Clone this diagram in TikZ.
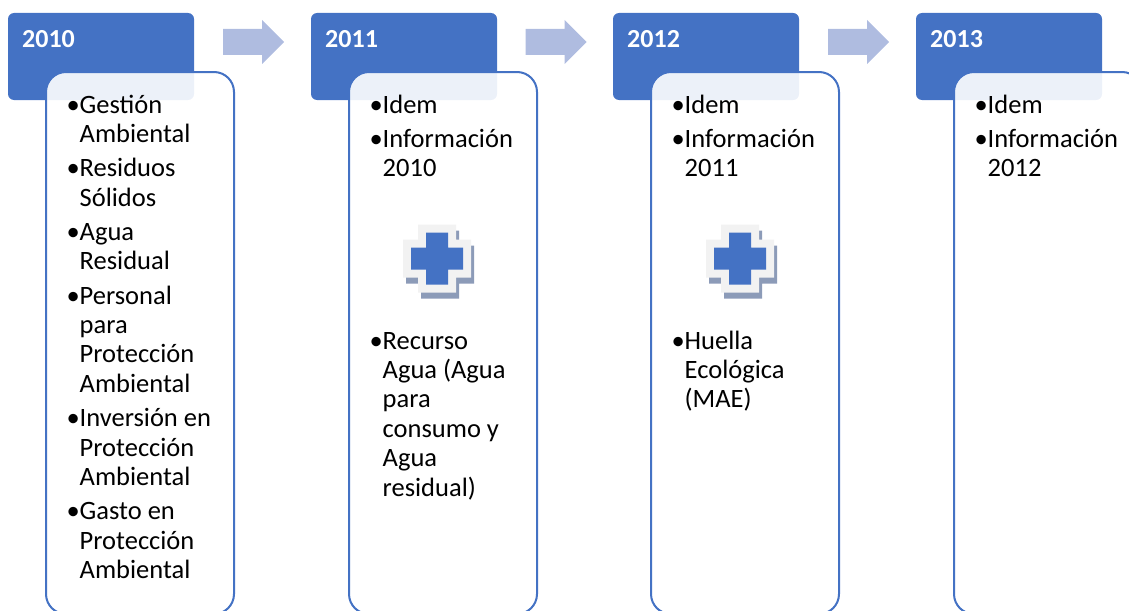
\documentclass[tikz,border=0pt]{standalone}
\usepackage{fontspec}
\setmainfont{Carlito}
\definecolor{acc}{RGB}{68,114,196}
\definecolor{arrc}{RGB}{175,188,224}
\definecolor{lightc}{RGB}{242,242,242}
\definecolor{shadc}{RGB}{140,155,184}
\newcommand{\bu}{\hfill•\hspace{2.5pt}}
\begin{document}
\begin{tikzpicture}[x=1pt,y=-1pt,
  hdr/.style={fill=acc, rounded corners=6pt, minimum width=186pt, minimum height=87pt, inner sep=0pt, outer sep=0pt},
  boxc/.style={draw=acc, line width=2pt, fill=white, fill opacity=0.9, rounded corners=20pt, minimum width=188pt, minimum height=542pt, inner sep=0pt, outer sep=0pt},
  ttl/.style={anchor=base west, inner sep=0pt, text=white, font=\fontsize{26}{30}\selectfont\bfseries},
  itm/.style={anchor=base west, inner sep=0pt, font=\fontsize{26.5}{29.4}\selectfont},
  pics/pluscross/.style={code={
    \fill[shadc] (3,6) ++(-19,-34) -- ++(38,0) -- ++(0,15) -- ++(15,0) -- ++(0,38) -- ++(-15,0) -- ++(0,15) -- ++(-38,0) -- ++(0,-15) -- ++(-15,0) -- ++(0,-38) -- ++(15,0) -- cycle;
    \fill[lightc] (-19,-34) -- ++(38,0) -- ++(0,15) -- ++(15,0) -- ++(0,38) -- ++(-15,0) -- ++(0,15) -- ++(-38,0) -- ++(0,-15) -- ++(-15,0) -- ++(0,-38) -- ++(15,0) -- cycle;
    \fill[acc] (-11,-26) -- ++(22,0) -- ++(0,15) -- ++(15,0) -- ++(0,22) -- ++(-15,0) -- ++(0,15) -- ++(-22,0) -- ++(0,-15) -- ++(-15,0) -- ++(0,-22) -- ++(15,0) -- cycle;
  }}
]
\useasboundingbox (0,0) rectangle (1129,610);
\clip (0,0) rectangle (1129,610);

% block arrows
\foreach \d in {0,302.5,605}{
  \fill[arrc] (223+\d,29) -- (262+\d,29) -- (262+\d,20) -- (284+\d,42) -- (262+\d,64) -- (262+\d,55) -- (223+\d,55) -- cycle;
}

% headers
\node[hdr] (h1) at (101,56.5) {};
\node[hdr] (h2) at (404,56.5) {};
\node[hdr] (h3) at (706,56.5) {};
\node[hdr] (h4) at (1009,56.5) {};
\node[ttl] (y1) at (22,48) {2010};
\node[ttl] (y2) at (325,48) {2011};
\node[ttl] (y3) at (627,48) {2012};
\node[ttl] (y4) at (930,48) {2013};

% boxes
\node[boxc] (b1) at (140,343) {};
\node[boxc] (b2) at (443,343) {};
\node[boxc] (b3) at (745,343) {};
\node[boxc] (b4) at (1048,343) {};

% texts
\node[itm] (l1) at (62,113) {\begin{tabular}[t]{@{}p{17.5pt}@{}l@{}}
\bu&Gestión\\ &Ambiental\\[4.9pt]
\bu&Residuos\\ &Sólidos\\[4.9pt]
\bu&Agua\\ &Residual\\[4.9pt]
\bu&Personal\\ &para\\ &Protección\\ &Ambiental\\[4.9pt]
\bu&Inversión en\\ &Protección\\ &Ambiental\\[4.9pt]
\bu&Gasto en\\ &Protección\\ &Ambiental
\end{tabular}};

\node[itm] (l2a) at (365,113) {\begin{tabular}[t]{@{}p{17.5pt}@{}l@{}}
\bu&Idem\\[4.9pt]
\bu&Información\\ &2010
\end{tabular}};
\node[itm] (l2b) at (365,349) {\begin{tabular}[t]{@{}p{17.5pt}@{}l@{}}
\bu&Recurso\\ &Agua (Agua\\ &para\\ &consumo y\\ &Agua\\ &residual)
\end{tabular}};

\node[itm] (l3a) at (667,113) {\begin{tabular}[t]{@{}p{17.5pt}@{}l@{}}
\bu&Idem\\[4.9pt]
\bu&Información\\ &2011
\end{tabular}};
\node[itm] (l3b) at (667,349) {\begin{tabular}[t]{@{}p{17.5pt}@{}l@{}}
\bu&Huella\\ &Ecológica\\ &(MAE)
\end{tabular}};

\node[itm] (l4a) at (970,113) {\begin{tabular}[t]{@{}p{17.5pt}@{}l@{}}
\bu&Idem\\[4.9pt]
\bu&Información\\ &2012
\end{tabular}};

% plus signs
\pic at (437,258.5) {pluscross};
\pic at (740,258.5) {pluscross};
\end{tikzpicture}
\end{document}
